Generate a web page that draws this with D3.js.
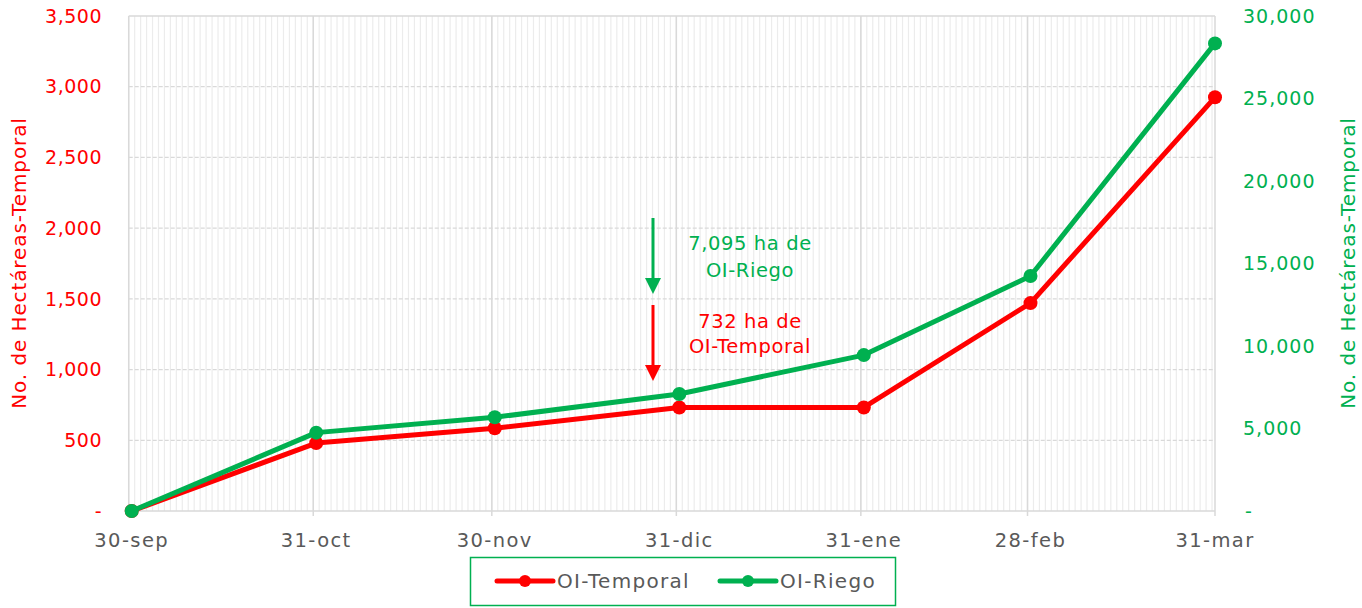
<!DOCTYPE html>
<html>
<head>
<meta charset="utf-8">
<script src="https://cdn.jsdelivr.net/npm/d3@7"></script>
<style>
  body { margin: 0; background: #fff; }
  text { font-family: "DejaVu Sans", sans-serif; }
</style>
</head>
<body>
<script>
// ---- data
var fechas = ["2022-09-30", "2022-10-31", "2022-11-30", "2022-12-31", "2023-01-31", "2023-02-28", "2023-03-31"];
var etiquetas = ["30-sep", "31-oct", "30-nov", "31-dic", "31-ene", "28-feb", "31-mar"];
var temporal = [0, 480, 585, 732, 732, 1470, 2925];
var riego = [0, 4750, 5680, 7095, 9450, 14240, 28340];
var ticksIzq = [0, 500, 1000, 1500, 2000, 2500, 3000, 3500];
var ticksDer = [0, 5000, 10000, 15000, 20000, 25000, 30000];

var rojo = "#FF0000", verde = "#00B050", gris = "#595959";

var svgWidth = 1362, svgHeight = 608;
var top_ = 16, bottom_ = 511;

var parse = d3.utcParse("%Y-%m-%d");
var dias = fechas.map(parse);
var halfDay = 12 * 3600 * 1000;

var svg = d3.select("body").append("svg")
  .attr("width", svgWidth)
  .attr("height", svgHeight);

// x: one slot per day, points in the middle of the slot
var x = d3.scaleUtc()
  .domain([dias[0], dias[dias.length - 1]])
  .range([131.7, 1215]);

var yL = d3.scaleLinear().domain([0, 3500]).range([bottom_, top_]);
var yR = d3.scaleLinear().domain([0, 30000]).range([bottom_, top_]);

var left = x(new Date(+dias[0] - halfDay));
var right = x(dias[dias.length - 1]);

// minor daily gridlines
var cada = d3.utcDay.range(dias[0], d3.utcDay.offset(dias[dias.length - 1], 1));
svg.append("g").selectAll("line")
  .data(cada)
  .enter().append("line")
  .attr("x1", d => x(new Date(+d - halfDay)))
  .attr("x2", d => x(new Date(+d - halfDay)))
  .attr("y1", top_).attr("y2", bottom_)
  .attr("stroke", "#ececec").attr("stroke-width", 1.2);

// horizontal gridlines
svg.append("g").selectAll("line")
  .data(ticksIzq)
  .enter().append("line")
  .attr("x1", left).attr("x2", right)
  .attr("y1", d => yL(d)).attr("y2", d => yL(d))
  .attr("stroke", "#d9d9d9").attr("stroke-width", 1.3)
  .attr("stroke-dasharray", d => (d == 0 || d == 3500) ? null : "4,2");

// major vertical gridlines
svg.append("g").selectAll("line")
  .data(dias)
  .enter().append("line")
  .attr("x1", (d, i) => i == dias.length - 1 ? right : x(new Date(+d - halfDay)))
  .attr("x2", (d, i) => i == dias.length - 1 ? right : x(new Date(+d - halfDay)))
  .attr("y1", top_).attr("y2", (d, i) => i == 0 ? bottom_ : bottom_ + 5)
  .attr("stroke", "#d9d9d9").attr("stroke-width", 1.5);

// left axis labels
svg.append("g").selectAll("text")
  .data(ticksIzq)
  .enter().append("text")
  .attr("x", 102).attr("y", d => yL(d)).attr("dy", "0.35em")
  .attr("text-anchor", "end")
  .attr("fill", rojo).style("font-size", "19px").style("letter-spacing", "0.5px")
  .text(d => d == 0 ? "-" : d3.format(",")(d));

// right axis labels
svg.append("g").selectAll("text")
  .data(ticksDer)
  .enter().append("text")
  .attr("x", d => d == 0 ? 1245 : 1243).attr("y", d => yR(d)).attr("dy", "0.35em")
  .attr("text-anchor", "start")
  .attr("fill", verde).style("font-size", "19px").style("letter-spacing", "1px")
  .text(d => d == 0 ? "-" : d3.format(",")(d));

// x labels
svg.append("g").selectAll("text")
  .data(dias)
  .enter().append("text")
  .attr("x", d => x(d)).attr("y", 540).attr("dy", "0.35em")
  .attr("text-anchor", "middle")
  .attr("fill", gris).style("font-size", "19.5px").style("letter-spacing", "1.4px")
  .text((d, i) => etiquetas[i]);

// axis titles
svg.append("text")
  .attr("transform", "translate(26,263) rotate(-90)")
  .attr("text-anchor", "middle")
  .attr("fill", rojo).style("font-size", "20px").style("letter-spacing", "0.9px")
  .text("No. de Hectáreas-Temporal");
svg.append("text")
  .attr("transform", "translate(1355,263) rotate(-90)")
  .attr("text-anchor", "middle")
  .attr("fill", verde).style("font-size", "20px").style("letter-spacing", "0.9px")
  .text("No. de Hectáreas-Temporal");

// lines
var series = [
  { nombre: "OI-Temporal", vals: temporal, y: yL, color: rojo },
  { nombre: "OI-Riego", vals: riego, y: yR, color: verde }
];

series.forEach(function (s) {
  var line = d3.line()
    .x((d, i) => x(dias[i]))
    .y(d => s.y(d));
  svg.append("path")
    .datum(s.vals)
    .attr("d", line)
    .attr("fill", "none")
    .attr("stroke", s.color)
    .attr("stroke-width", 5)
    .attr("stroke-linejoin", "round");
  svg.append("g").selectAll("circle")
    .data(s.vals)
    .enter().append("circle")
    .attr("cx", (d, i) => x(dias[i]))
    .attr("cy", d => s.y(d))
    .attr("r", 7)
    .attr("fill", s.color);
});

// annotations (arrows)
function flecha(x0, y0, y1, color) {
  svg.append("line")
    .attr("x1", x0).attr("x2", x0).attr("y1", y0).attr("y2", y1 - 14)
    .attr("stroke", color).attr("stroke-width", 3);
  svg.append("path")
    .attr("d", `M${x0 - 8},${y1 - 16} L${x0 + 8},${y1 - 16} L${x0},${y1} Z`)
    .attr("fill", color);
}
flecha(653, 218, 294, verde);
flecha(653, 305, 381, rojo);

var notas = [
  { t: "7,095 ha de", y: 243, c: verde },
  { t: "OI-Riego", y: 270, c: verde },
  { t: "732 ha de", y: 321, c: rojo },
  { t: "OI-Temporal", y: 346, c: rojo }
];
svg.append("g").selectAll("text")
  .data(notas)
  .enter().append("text")
  .attr("x", 750).attr("y", d => d.y).attr("dy", "0.35em")
  .attr("text-anchor", "middle")
  .attr("fill", d => d.c).style("font-size", "19.5px").style("letter-spacing", "0.6px")
  .text(d => d.t);

// legend
var leg = svg.append("g");
leg.append("rect")
  .attr("x", 470.5).attr("y", 557.5).attr("width", 425).attr("height", 48)
  .attr("fill", "#fff").attr("stroke", verde).attr("stroke-width", 1.5);
var legX = [497, 720];
series.forEach(function (s, i) {
  var g = leg.append("g").attr("transform", `translate(${legX[i]},581)`);
  g.append("line").attr("x1", 0).attr("x2", 56).attr("y1", 0).attr("y2", 0)
    .attr("stroke", s.color).attr("stroke-width", 5).attr("stroke-linecap", "round");
  g.append("circle").attr("cx", 28).attr("cy", 0).attr("r", 6).attr("fill", s.color);
  g.append("text").attr("x", 60).attr("y", 0).attr("dy", "0.35em")
    .attr("fill", gris).style("font-size", "20px").style("letter-spacing", "1.3px")
    .text(s.nombre);
});
</script>
</body>
</html>
